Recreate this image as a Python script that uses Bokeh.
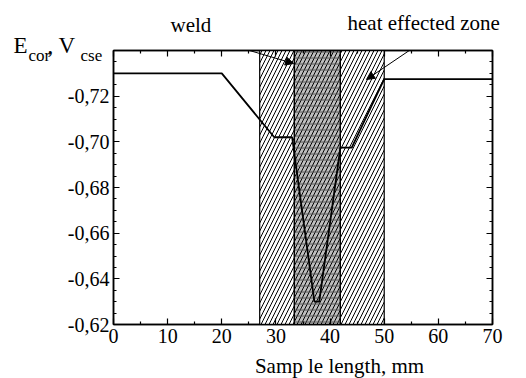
from bokeh.plotting import figure
from bokeh.models import (Range1d, FixedTicker, CustomJSTickFormatter, LinearAxis,
                          Label, Arrow, NormalHead)
from bokeh.embed import file_html
from bokeh.resources import INLINE

# data
x_len = [0, 20, 29.7, 33.0, 37.1, 38.0, 41.9, 44.0, 50.0, 70]
e_cor = [-0.730, -0.730, -0.702, -0.702, -0.630, -0.630, -0.6975, -0.6975, -0.7275, -0.7275]
haz_zone = [27.0, 50.0]
weld_zone = [33.4, 41.9]
x_ticks = [0, 10, 20, 30, 40, 50, 60, 70]
x_minor = [5, 15, 25, 35, 45, 55, 65]
y_ticks = [-0.62, -0.64, -0.66, -0.68, -0.70, -0.72]
y_minor = [-0.625, -0.63, -0.635, -0.645, -0.65, -0.655, -0.665, -0.67, -0.675,
           -0.685, -0.69, -0.695, -0.705, -0.71, -0.715, -0.725, -0.73, -0.735, -0.74]
x_title = "Samp le length, mm"
zone_names = ["weld", "heat effected zone"]

FONT = "Liberation Serif"

p = figure(width=524, height=378, output_backend="svg", toolbar_location=None,
           x_range=Range1d(0, 70), y_range=Range1d(-0.62, -0.74),
           x_axis_location=None, y_axis_location=None,
           min_border_left=113, min_border_right=32, min_border_top=50, min_border_bottom=54)
p.grid.visible = False
p.outline_line_color = "black"
p.outline_line_width = 1.5
p.background_fill_color = "white"
p.border_fill_color = "white"

fmt = CustomJSTickFormatter(code="return tick.toFixed(2).replace('.', ',');")
blank = CustomJSTickFormatter(code="return '';")

def style(ax, labels=True):
    ax.axis_line_color = "black"
    ax.axis_line_width = 1.5
    ax.major_tick_in = 6
    ax.major_tick_out = 0
    ax.minor_tick_in = 3
    ax.minor_tick_out = 0
    ax.major_tick_line_color = "black"
    ax.minor_tick_line_color = "black"
    ax.major_tick_line_width = 1.2
    ax.minor_tick_line_width = 1.2
    ax.major_label_text_font = FONT
    ax.major_label_text_font_size = "20px"
    ax.major_label_text_color = "black"
    if not labels:
        ax.major_label_text_font_size = "1px"
        ax.major_label_standoff = 0
        ax.formatter = blank

xb = LinearAxis(ticker=FixedTicker(ticks=x_ticks, minor_ticks=x_minor), major_label_standoff=4)
style(xb)
xt = LinearAxis(ticker=FixedTicker(ticks=x_ticks, minor_ticks=x_minor))
style(xt, labels=False)
yl = LinearAxis(ticker=FixedTicker(ticks=y_ticks, minor_ticks=y_minor), formatter=fmt,
                major_label_standoff=4)
style(yl)
yr = LinearAxis(ticker=FixedTicker(ticks=y_ticks, minor_ticks=y_minor))
style(yr, labels=False)
p.add_layout(xb, "below")
p.add_layout(xt, "above")
p.add_layout(yl, "left")
p.add_layout(yr, "right")

# zones
p.quad(left=[haz_zone[0]], right=[haz_zone[1]], bottom=[-0.62], top=[-0.74],
       fill_color="white", hatch_pattern="/", hatch_color="black", hatch_scale=8,
       hatch_weight=1, line_color="black", line_width=1.2)
p.quad(left=[weld_zone[0]], right=[weld_zone[1]], bottom=[-0.62], top=[-0.74],
       fill_color="#bdbdbd", hatch_pattern="/", hatch_color="black", hatch_scale=8,
       hatch_weight=1, line_color="black", line_width=1.2)
p.quad(left=[weld_zone[0]], right=[weld_zone[1]], bottom=[-0.62], top=[-0.74],
       fill_alpha=0, hatch_pattern="-", hatch_color="#555555", hatch_scale=6,
       hatch_weight=1, line_color="black", line_width=1.2)

p.line(x_len, e_cor, line_color="black", line_width=1.8)

# arrows
p.add_layout(Arrow(x_start=16.99, y_start=-0.74569, x_end=33.25, y_end=-0.73431,
                   line_color="black", line_width=1,
                   end=NormalHead(size=8, fill_color="black", line_color="black")))
p.add_layout(Arrow(x_start=57.63, y_start=-0.74482, x_end=46.73, y_end=-0.72730,
                   line_color="black", line_width=1,
                   end=NormalHead(size=8, fill_color="black", line_color="black")))

# texts outside the frame: canvas-positioned labels held in the side panels
def lab(x, y, t, size, place, align="left"):
    p.add_layout(Label(x=x, y=y, x_units="canvas", y_units="canvas", text=t,
                       text_font=FONT, text_font_size=size, text_color="black",
                       text_align=align, text_baseline="alphabetic"), place)

lab(170, 24, zone_names[0], "21px", "above")
lab(347, 22, zone_names[1], "21px", "above")
lab(13, 45, "E", "23px", "left")
lab(28, 55, "cor", "17px", "left")
lab(47, 45, ", V", "23px", "left")
lab(80, 55, "cse", "17px", "right")
lab(339, 365, x_title, "21px", "below", align="center")

open("out.html", "w").write(file_html(p, INLINE))
